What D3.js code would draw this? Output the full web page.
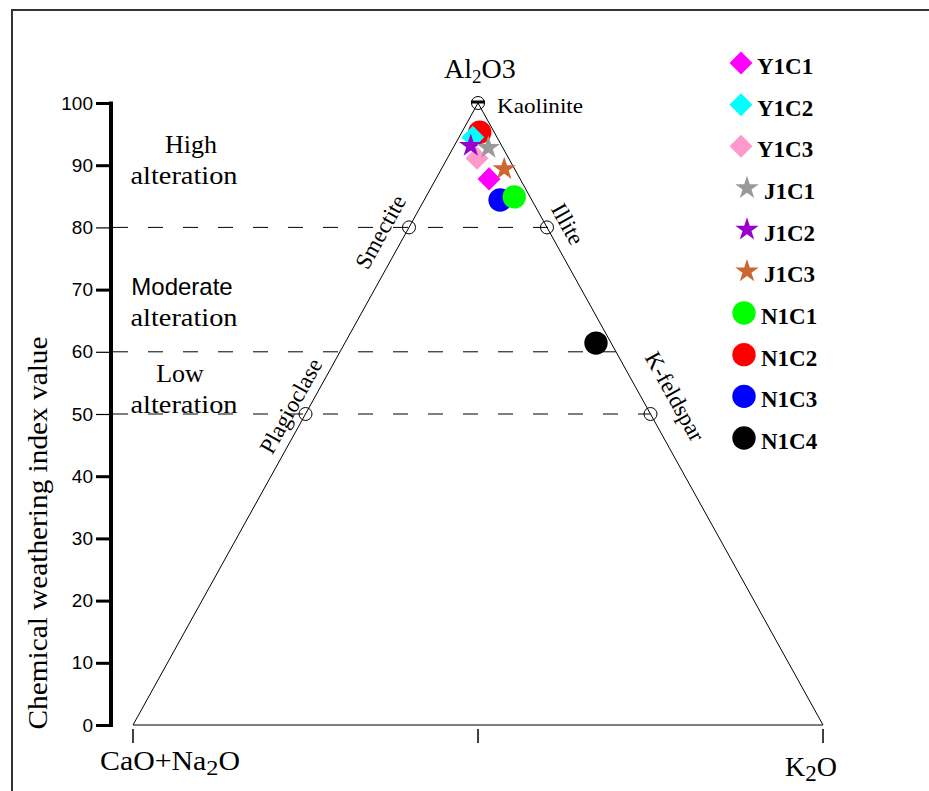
<!DOCTYPE html>
<html>
<head>
<meta charset="utf-8">
<script src="https://cdn.jsdelivr.net/npm/d3@7"></script>
<style>
  body { margin: 0; background: #fff; }
  svg { display: block; }
</style>
</head>
<body>
<div id="chart"></div>
<script>
// sample compositions (molar %, A-CN-K)
const samples = ['Y1C1', 'Y1C2', 'Y1C3', 'J1C1', 'J1C2', 'J1C3', 'N1C1', 'N1C2', 'N1C3', 'N1C4'];
const al2o3   = [87.8, 94.5, 91.1, 92.8, 93.1, 89.4, 84.9, 95.3, 84.4, 61.4];
const caoNa2o = [4.5, 3.5, 4.6, 2.1, 4.5, 1.5, 2.3, 2.1, 4.6, 2.2];
const k2o     = [7.7, 2.0, 4.3, 5.1, 2.4, 9.1, 12.8, 2.6, 11.0, 36.4];
const shapes  = ['diamond', 'diamond', 'diamond', 'star', 'star', 'star', 'circle', 'circle', 'circle', 'circle'];
const colors  = ['#ff00ff', '#00ffff', '#ff99cc', '#999999', '#9900cc', '#cc6633', '#00ff00', '#ff0000', '#0000ff', '#000000'];

// reference minerals
const minerals  = ['Kaolinite', 'Smectite', 'Illite', 'Plagioclase', 'K-feldspar'];
const mineralAl = [100, 80, 80, 50, 50];
const mineralK  = [0, 0, 20, 0, 50];

const cwiTicks = [0, 10, 20, 30, 40, 50, 60, 70, 80, 90, 100];
const zoneLines = [80, 60, 50];
const zones = [
  { lines: ['High', 'alteration'], y: 153 },
  { lines: ['Moderate', 'alteration'], y: 295 },
  { lines: ['Low', 'alteration'], y: 382 }
];

const width = 929, height = 791;

const svg = d3.select('#chart').append('svg')
  .attr('width', width)
  .attr('height', height);

const y = d3.scaleLinear().domain([0, 100]).range([725, 103]);
const x = d3.scaleLinear().domain([0, 100]).range([133, 823]);   // K + A/2

function pos(a, cn, k) {
  const s = a + cn + k;
  return [x(100 * (k + a / 2) / s), y(100 * a / s)];
}

const serif = '"Liberation Serif", "Times New Roman", serif';
const sans = '"Liberation Sans", Arial, sans-serif';

// frame
svg.append('path')
  .attr('d', `M12,${height} L12,10 L${width},10`)
  .attr('fill', 'none')
  .attr('stroke', '#333')
  .attr('stroke-width', 2);

// dashed alteration limits
svg.append('g').selectAll('line')
  .data(zoneLines)
  .enter().append('line')
  .attr('x1', 113)
  .attr('x2', d => x(100 - d / 2) + (d === 80 ? 12 : 0))
  .attr('y1', d => y(d))
  .attr('y2', d => y(d))
  .attr('stroke', '#000')
  .attr('stroke-width', 1)
  .attr('stroke-dasharray', '15,20');

// triangle
const apex = pos(100, 0, 0), left = pos(0, 100, 0), right = pos(0, 0, 100);
svg.append('path')
  .attr('d', `M${left} L${apex} L${right} Z`)
  .attr('fill', 'none')
  .attr('stroke', '#000')
  .attr('stroke-width', 1);

// base ticks
svg.append('g').selectAll('line')
  .data([0, 50, 100])
  .enter().append('line')
  .attr('x1', d => x(d)).attr('x2', d => x(d))
  .attr('y1', 729).attr('y2', 743)
  .attr('stroke', '#000')
  .attr('stroke-width', 1.5);

// CWI axis
const axis = svg.append('g')
  .attr('transform', 'translate(111,0)')
  .call(d3.axisLeft(y).tickValues(cwiTicks).tickSize(15).tickSizeOuter(0).tickPadding(3));
axis.select('.domain').attr('stroke-width', 4).attr('d', `M0,${y(100) - 1.5}V${y(0) + 2}`);
axis.selectAll('.tick line').attr('stroke-width', d => zoneLines.includes(d) ? 1.2 : 3);
axis.selectAll('.tick text')
  .attr('font-family', sans)
  .attr('font-size', 19)
  .attr('fill', '#000');

svg.append('text')
  .attr('transform', 'translate(47,533) rotate(-90)')
  .attr('text-anchor', 'middle')
  .attr('font-family', serif)
  .attr('font-size', 27)
  .attr('textLength', 393)
  .attr('lengthAdjust', 'spacingAndGlyphs')
  .text('Chemical weathering index value');

// zone labels
zones.forEach(z => {
  z.lines.forEach((t, i) => {
    svg.append('text')
      .attr('x', i === 0 ? (t === 'High' ? 191 : t === 'Low' ? 180 : 182) : 184)
      .attr('y', z.y + i * 31)
      .attr('text-anchor', 'middle')
      .attr('font-family', t === 'Moderate' ? sans : serif)
      .attr('font-size', t === 'Moderate' ? 24 : 26)
      .attr('textLength', t === 'alteration' ? 107 : null)
      .attr('lengthAdjust', 'spacingAndGlyphs')
      .text(t);
  });
});

// corner labels
const al = svg.append('text')
  .attr('x', 444).attr('y', 78)
  .attr('font-family', serif)
  .attr('font-size', 28);
al.append('tspan').text('Al');
al.append('tspan').attr('font-size', 19).attr('dy', 5).text('2');
al.append('tspan').attr('dy', -5).text('O3');

const cn = svg.append('text')
  .attr('x', 100).attr('y', 770)
  .attr('font-family', serif)
  .attr('font-size', 27)
  .attr('textLength', 140)
  .attr('lengthAdjust', 'spacingAndGlyphs');
cn.append('tspan').text('CaO+Na');
cn.append('tspan').attr('font-size', 22).attr('dy', 5).text('2');
cn.append('tspan').attr('dy', -5).text('O');

const ko = svg.append('text')
  .attr('x', 785).attr('y', 776)
  .attr('font-family', serif)
  .attr('font-size', 28);
ko.append('tspan').text('K');
ko.append('tspan').attr('font-size', 23).attr('dy', 5).text('2');
ko.append('tspan').attr('dy', -5).text('O');

// mineral points
const mineralData = minerals.map((m, i) => ({ name: m, a: mineralAl[i], k: mineralK[i], cn: 100 - mineralAl[i] - mineralK[i] }));
svg.append('g').selectAll('circle')
  .data(mineralData)
  .enter().append('circle')
  .attr('cx', d => pos(d.a, d.cn, d.k)[0])
  .attr('cy', d => pos(d.a, d.cn, d.k)[1])
  .attr('r', 6.5)
  .attr('fill', 'none')
  .attr('stroke', '#000')
  .attr('stroke-width', 1);

svg.append('line')
  .attr('x1', apex[0] - 7).attr('x2', apex[0] + 7)
  .attr('y1', apex[1] - 1).attr('y2', apex[1] - 1)
  .attr('stroke', '#000')
  .attr('stroke-width', 3);

svg.append('text')
  .attr('x', apex[0] + 19).attr('y', apex[1] + 10)
  .attr('font-family', serif)
  .attr('font-size', 22)
  .attr('textLength', 86)
  .attr('lengthAdjust', 'spacingAndGlyphs')
  .text('Kaolinite');

// rotated side labels: side, CIA along the edge, outward offset
const sideLabel = {
  'Smectite':    { side: 'left',  at: 77.5, off: 15 },
  'Plagioclase': { side: 'left',  at: 50,   off: 9 },
  'Illite':      { side: 'right', at: 79,   off: 12 },
  'K-feldspar':  { side: 'right', at: 50.5, off: 22 }
};
const edgeAngle = Math.atan2(apex[1] - left[1], apex[0] - left[0]) * 180 / Math.PI; // about -61
Object.keys(sideLabel).forEach(name => {
  const s = sideLabel[name];
  const a = s.at;
  const p = s.side === 'left' ? pos(a, 100 - a, 0) : pos(a, 0, 100 - a);
  const ang = s.side === 'left' ? edgeAngle : -edgeAngle;
  const r = ang * Math.PI / 180;
  // outward normal = text "up" direction
  const nx = Math.sin(r), ny = -Math.cos(r);
  svg.append('text')
    .attr('transform', `translate(${p[0] + nx * s.off},${p[1] + ny * s.off}) rotate(${ang})`)
    .attr('text-anchor', 'middle')
    .attr('font-family', serif)
    .attr('font-size', 23)
    .text(name);
});

// sample symbols
const diamond = d3.symbol().type(d3.symbolSquare).size(265);
const star = d3.symbol().type(d3.symbolStar).size(170);
const symbolPath = {
  diamond: () => diamond(),
  star: () => star(),
  circle: () => d3.symbol().type(d3.symbolCircle).size(430)()
};
const symbolRot = { diamond: 45, star: 0, circle: 0 };
const shapeRank = { circle: 0, diamond: 1, star: 2 };

const pts = samples.map((s, i) => ({
  name: s, i: i, shape: shapes[i], color: colors[i],
  p: pos(al2o3[i], caoNa2o[i], k2o[i])
}));
const drawOrder = pts.slice().sort((a, b) => shapeRank[a.shape] - shapeRank[b.shape] || b.i - a.i);

svg.append('g').selectAll('path')
  .data(drawOrder)
  .enter().append('path')
  .attr('d', d => symbolPath[d.shape]())
  .attr('transform', d => `translate(${d.p[0]},${d.p[1]}) rotate(${symbolRot[d.shape]})`)
  .attr('fill', d => d.color);

// legend
const legendY = d3.scaleLinear().domain([0, samples.length - 1]).range([66, 441]);
const markX = { diamond: 741, star: 747, circle: 744 };
const textX = { diamond: 757, star: 764, circle: 761 };
const legend = svg.append('g').selectAll('g')
  .data(pts)
  .enter().append('g');
legend.append('path')
  .attr('d', d => symbolPath[d.shape]())
  .attr('transform', d => `translate(${markX[d.shape]},${legendY(d.i) - 3}) rotate(${symbolRot[d.shape]})`)
  .attr('fill', d => d.color);
legend.append('text')
  .attr('x', d => textX[d.shape])
  .attr('y', d => legendY(d.i) + 8)
  .attr('font-family', serif)
  .attr('font-weight', 'bold')
  .attr('font-size', 23)
  .text(d => d.name);
</script>
</body>
</html>
